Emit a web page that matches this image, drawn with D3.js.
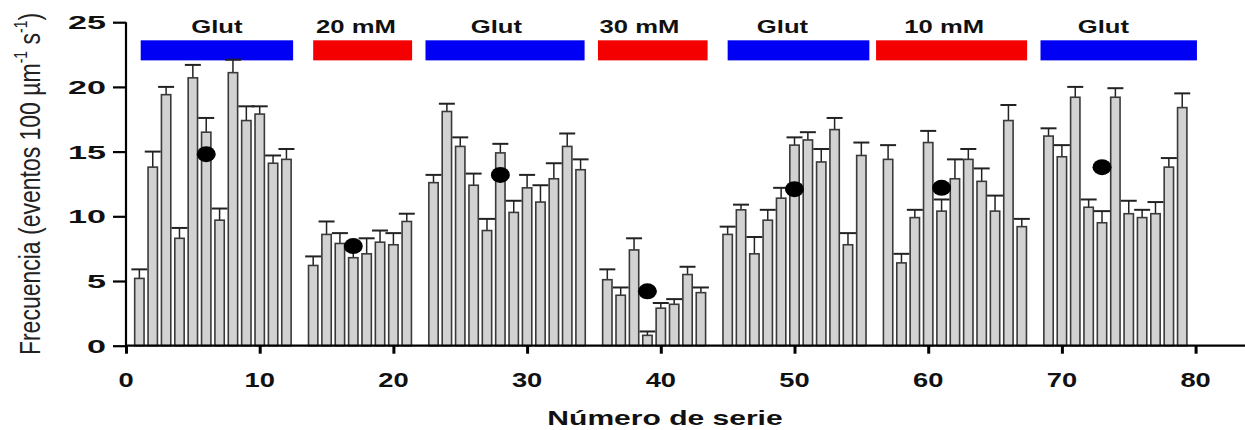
<!DOCTYPE html>
<html>
<head>
<meta charset="utf-8">
<script src="https://cdn.jsdelivr.net/npm/d3@7"></script>
<style>
	body { margin: 0; background: #fff; }
	svg { display: block; font-family: "Liberation Sans", Arial, sans-serif; }
</style>
</head>
<body>
<svg width="1245" height="430"></svg>
<script>
// numero de serie de cada barra
const serie = [
	1, 2, 3, 4, 5, 6, 7, 8, 9, 10, 11, 12,
	14, 15, 16, 17, 18, 19, 20, 21,
	23, 24, 25, 26, 27, 28, 29, 30, 31, 32, 33, 34,
	36, 37, 38, 39, 40, 41, 42, 43,
	45, 46, 47, 48, 49, 50, 51, 52, 53, 54, 55,
	57, 58, 59, 60, 61, 62, 63, 64, 65, 66, 67,
	69, 70, 71, 72, 73, 74, 75, 76, 77, 78, 79
];
// frecuencia (eventos 100 um-1 s-1)
const frecuencia = [
	5.2, 13.8, 19.4, 8.3, 20.7, 16.5, 9.7, 21.1, 17.4, 17.9, 14.1, 14.4,
	6.2, 8.6, 7.9, 6.8, 7.1, 8.0, 7.8, 9.6,
	12.6, 18.1, 15.4, 12.4, 8.9, 14.9, 10.3, 12.2, 11.1, 12.9, 15.4, 13.6,
	5.1, 3.9, 7.4, 0.8, 2.9, 3.2, 5.5, 4.1,
	8.6, 10.5, 7.1, 9.7, 11.4, 15.5, 15.9, 14.2, 16.7, 7.8, 14.7,
	14.4, 6.4, 9.9, 15.7, 10.4, 12.9, 14.4, 12.7, 10.4, 17.4, 9.2,
	16.2, 14.6, 19.2, 10.7, 9.5, 19.2, 10.2, 9.9, 10.2, 13.8, 18.4
];
// error estandar
const error = [
	0.7, 1.2, 0.6, 0.8, 1.0, 1.1, 0.9, 1.0, 1.1, 0.6, 0.6, 0.8,
	0.7, 1.0, 0.8, 0.6, 1.2, 0.9, 0.9, 0.6,
	0.6, 0.6, 0.7, 0.9, 0.9, 0.7, 0.9, 1.0, 1.3, 1.2, 1.0, 0.8,
	0.8, 0.6, 0.9, 0.3, 0.4, 0.4, 0.6, 0.4,
	0.6, 0.4, 1.3, 0.8, 0.8, 0.6, 0.6, 1.0, 0.9, 0.9, 1.0,
	1.1, 0.7, 0.6, 0.9, 0.9, 1.5, 0.8, 1.0, 1.2, 1.2, 0.6,
	0.6, 0.9, 0.8, 0.6, 0.9, 0.7, 1.0, 0.6, 0.9, 0.7, 1.1
];
// promedio de cada fase
const mediaX = [6, 17, 28, 39, 50, 61, 73];
const mediaY = [14.8, 7.7, 13.2, 4.2, 12.1, 12.2, 13.8];

// fases del experimento
const fases = ["Glut", "20 mM", "Glut", "30 mM", "Glut", "10 mM", "Glut"];
const faseTipo = ["glut", "kcl", "glut", "kcl", "glut", "kcl", "glut"];
const faseInicio = [1.1, 14.0, 22.4, 35.3, 45.0, 56.1, 68.4];
const faseFin = [12.5, 21.4, 34.3, 43.5, 55.6, 67.4, 80.1];
const etiquetaX = [6.8, 17.2, 27.7, 38.4, 49.1, 61.2, 73.1];

const xTicks = [0, 10, 20, 30, 40, 50, 60, 70, 80];
const yTicks = [0, 5, 10, 15, 20, 25];

const x = d3.scaleLinear().domain([0, 80]).range([126, 1195.6]);
const y = d3.scaleLinear().domain([0, 25]).range([345.7, 22.2]);
const colorFase = d3.scaleOrdinal().domain(["glut", "kcl"]).range(["#0000f5", "#f50000"]);

const barW = x(0.7) - x(0);
const capW = 16;

let svg = d3.select('svg');

// texto estirado en horizontal, como en la figura original
function stretched(g, px, py, sx, txt, size, anchor) {
	return g.append('text')
		.attr('transform', 'translate(' + px + ',' + py + ') scale(' + sx + ',1)')
		.attr('text-anchor', anchor)
		.attr('font-size', size)
		.attr('font-weight', 'bold')
		.attr('fill', '#111')
		.text(txt);
}

// barras de fase
let fase = svg.append('g').classed('fases', true);
fase.selectAll('rect')
	.data(fases)
	.enter()
	.append('rect')
	.attr('x', (d, i) => x(faseInicio[i]))
	.attr('width', (d, i) => x(faseFin[i]) - x(faseInicio[i]))
	.attr('y', y(23.6))
	.attr('height', y(22.05) - y(23.6))
	.attr('fill', (d, i) => colorFase(faseTipo[i]));
fases.forEach(function(d, i) {
	stretched(fase, x(etiquetaX[i]), 33, 1.35, d, 19, 'middle');
});

// barras de error
let err = svg.append('g').classed('errores', true)
	.attr('stroke', '#222')
	.attr('fill', 'none');
err.selectAll('line.v')
	.data(serie)
	.enter()
	.append('line')
	.classed('v', true)
	.attr('x1', d => x(d))
	.attr('x2', d => x(d))
	.attr('y1', (d, i) => y(frecuencia[i]))
	.attr('y2', (d, i) => y(frecuencia[i] + error[i]))
	.attr('stroke-width', 1.5);
err.selectAll('line.cap')
	.data(serie)
	.enter()
	.append('line')
	.classed('cap', true)
	.attr('x1', d => x(d) - capW / 2)
	.attr('x2', d => x(d) + capW / 2)
	.attr('y1', (d, i) => y(frecuencia[i] + error[i]))
	.attr('y2', (d, i) => y(frecuencia[i] + error[i]))
	.attr('stroke-width', 2);

// barras
svg.append('g').classed('barras', true)
	.selectAll('rect')
	.data(serie)
	.enter()
	.append('rect')
	.attr('x', d => x(d) - barW / 2)
	.attr('width', barW)
	.attr('y', (d, i) => y(frecuencia[i]))
	.attr('height', (d, i) => y(0) - y(frecuencia[i]))
	.attr('fill', '#d2d2d2')
	.attr('stroke', '#3a3a3a')
	.attr('stroke-width', 1.6);

// promedios
svg.append('g').classed('medias', true)
	.selectAll('ellipse')
	.data(mediaX)
	.enter()
	.append('ellipse')
	.attr('cx', d => x(d))
	.attr('cy', (d, i) => y(mediaY[i]))
	.attr('rx', 9.5)
	.attr('ry', 8)
	.attr('fill', '#000');

// ejes
let xAxis = svg.append('g')
	.attr('transform', 'translate(0,' + y(0) + ')')
	.call(d3.axisBottom(x).tickValues(xTicks).tickSize(8).tickFormat(''));
xAxis.select('.domain').attr('d', 'M' + x(0) + ',0H1245').attr('stroke-width', 2.2).attr('stroke', '#000');
xAxis.selectAll('.tick line').attr('stroke-width', 3).attr('stroke', '#000');
xTicks.forEach(function(t) {
	stretched(svg, x(t), 386.5, 1.3, t, 21, 'middle');
});

let yAxis = svg.append('g')
	.attr('transform', 'translate(' + x(0) + ',0)')
	.call(d3.axisLeft(y).tickValues(yTicks).tickSize(13).tickFormat(''));
yAxis.select('.domain').attr('d', 'M0,' + y(0) + 'V' + y(25)).attr('stroke-width', 2.2).attr('stroke', '#000');
yAxis.selectAll('.tick line').attr('stroke-width', 2.2).attr('stroke', '#000');
yTicks.forEach(function(t) {
	stretched(svg, 106, y(t) + 7, 1.9, t, 18, 'end');
});

// titulos
stretched(svg, 665, 425, 1.43, 'Número de serie', 21, 'middle');

let yTitle = svg.append('text')
	.attr('transform', 'translate(40,184) rotate(-90) scale(1,1.3)')
	.attr('text-anchor', 'middle')
	.attr('font-size', 23)
	.attr('fill', '#222');
yTitle.append('tspan').text('Frecuencia (eventos 100 µm');
yTitle.append('tspan').attr('font-size', 14).attr('dy', -10).text('-1');
yTitle.append('tspan').attr('dy', 10).text(' s');
yTitle.append('tspan').attr('font-size', 14).attr('dy', -10).text('-1');
yTitle.append('tspan').attr('dy', 10).text(')');
</script>
</body>
</html>
